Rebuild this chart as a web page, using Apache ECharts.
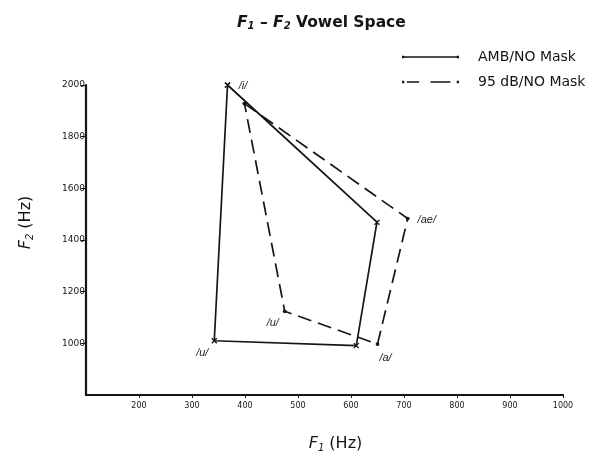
<!DOCTYPE html>
<html>
<head>
<meta charset="utf-8">
<script src="https://cdn.jsdelivr.net/npm/echarts@6/dist/echarts.min.js"></script>
<style>
  html, body { margin: 0; padding: 0; background: #fff; }
  #chart { width: 593px; height: 456px; }
</style>
</head>
<body>
<div id="chart"></div>
<script>
// Vowel formant measurements (Hz), listed /i/, /ae/, /a/, /u/
const vowels = ['/i/', '/ae/', '/a/', '/u/'];
const ambF1 = [367, 649, 610, 342];
const ambF2 = [2000, 1469, 991, 1010];
const maskF1 = [399, 707, 650, 475];
const maskF2 = [1928, 1483, 997, 1124];
const seriesNames = ['AMB/NO Mask', '95 dB/NO Mask'];

// Which vowel labels each quadrilateral carries, and where
const ambLabels = { '/i/': 'right', '/u/': 'bottomLeft' };
const maskLabels = { '/ae/': 'right', '/a/': 'bottomRight', '/u/': 'bottomLeft' };

const labelOffsets = {
  right: { position: 'right', distance: 8, offset: [0, 1] },
  bottomLeft: { position: 'bottom', distance: 4, offset: [-12, 0] },
  bottomRight: { position: 'bottom', distance: 6, offset: [8, 0] }
};

const FONT = 'DejaVu Sans';
const ink = '#151515';

function polygon(f1, f2, labels) {
  const pts = f1.map((x, i) => {
    const item = { value: [x, f2[i]] };
    const pos = labels[vowels[i]];
    if (pos) {
      item.label = Object.assign({
        show: true,
        formatter: vowels[i],
        fontStyle: 'italic',
        fontSize: 11,
        color: '#222',
        fontFamily: 'Liberation Sans'
      }, labelOffsets[pos]);
    }
    return item;
  });
  // close the shape
  pts.push({ value: [f1[0], f2[0]] });
  return pts;
}

function nameRich(size) {
  return {
    i: { fontSize: size, fontStyle: 'italic', color: ink, fontFamily: FONT },
    s: { fontSize: 10, fontStyle: 'italic', color: ink, verticalAlign: 'bottom', padding: [8, 0, 0, 0], fontFamily: FONT },
    t: { fontSize: size, color: ink, fontFamily: FONT }
  };
}

const chart = echarts.init(document.getElementById('chart'), null, { renderer: 'canvas' });

const solidIcon = 'path://M0,1h2.4v2.4h-2.4z M1,1.5h58v1.4h-58z M57.6,1h2.4v2.4h-2.4z';
const dashIcon = 'path://M0,1h2.4v2.4h-2.4z M5,1.5h13v1.4h-13z M30,1.5h21v1.4h-21z M57.6,1h2.4v2.4h-2.4z';

chart.setOption({
  animation: false,
  backgroundColor: '#fff',
  textStyle: { fontFamily: FONT },
  title: {
    text: '{b|F}{s|1}{t| – }{b|F}{s|2}{t| Vowel Space}',
    left: 232,
    top: 9,
    textStyle: {
      rich: {
        b: { fontSize: 15.5, fontWeight: 'bold', fontStyle: 'italic', color: ink, fontFamily: FONT },
        s: { fontSize: 10, fontWeight: 'bold', fontStyle: 'italic', color: ink, verticalAlign: 'bottom', padding: [7, 0, 0, 0], fontFamily: FONT },
        t: { fontSize: 15.5, fontWeight: 'bold', color: ink, fontFamily: FONT }
      }
    }
  },
  legend: {
    orient: 'vertical',
    left: 397,
    top: 45,
    itemWidth: 57,
    itemHeight: 4,
    itemGap: 11,
    textStyle: { fontSize: 14, color: ink, padding: [0, 0, 0, 14], fontFamily: FONT },
    itemStyle: { color: ink, borderWidth: 0 },
    lineStyle: { width: 0 },
    data: [
      { name: seriesNames[0], icon: solidIcon },
      { name: seriesNames[1], icon: dashIcon }
    ]
  },
  grid: { left: 86, right: 30, top: 85, bottom: 61, containLabel: false, outerBoundsMode: 'none' },
  xAxis: {
    type: 'value',
    min: 100,
    max: 1000,
    interval: 100,
    name: '{i|F}{s|1}{t| (Hz)}',
    nameLocation: 'middle',
    nameGap: 40,
    nameTextStyle: { padding: [0, 0, 0, 22], rich: nameRich(16) },
    axisLine: { show: true, lineStyle: { color: ink, width: 2.2 } },
    axisTick: { show: true, inside: false, length: 3, lineStyle: { color: ink } },
    axisLabel: { showMinLabel: false, fontSize: 8, color: ink, margin: 7, fontFamily: FONT,
      formatter: v => String(v) },
    splitLine: { show: false }
  },
  yAxis: {
    type: 'value',
    min: 800,
    max: 2000,
    interval: 200,
    name: '{i|F}{s|2}{t| (Hz)}',
    nameLocation: 'middle',
    nameGap: 51,
    nameRotate: 90,
    nameTextStyle: { padding: [0, 0, 0, 35], rich: nameRich(16) },
    axisLine: { show: true, lineStyle: { color: ink, width: 2.2 } },
    axisTick: { show: true, inside: false, length: 5, lineStyle: { color: ink } },
    axisLabel: { showMinLabel: false, fontSize: 9, color: ink, margin: 1, fontFamily: FONT,
      formatter: v => String(v) },
    splitLine: { show: false }
  },
  series: [
    {
      name: seriesNames[0],
      type: 'line',
      data: polygon(ambF1, ambF2, ambLabels),
      symbol: 'path://M0,0L10,10M10,0L0,10Z',
      symbolSize: 5,
      showSymbol: true,
      itemStyle: { color: ink, borderColor: ink, borderWidth: 1.3 },
      lineStyle: { color: ink, width: 1.7, type: 'solid' },
      z: 3
    },
    {
      name: seriesNames[1],
      type: 'line',
      data: polygon(maskF1, maskF2, maskLabels),
      symbol: 'circle',
      symbolSize: 3.8,
      itemStyle: { color: ink, borderWidth: 0 },
      lineStyle: { color: ink, width: 1.7, type: [14, 7] },
      z: 2
    }
  ]
});
</script>
</body>
</html>
